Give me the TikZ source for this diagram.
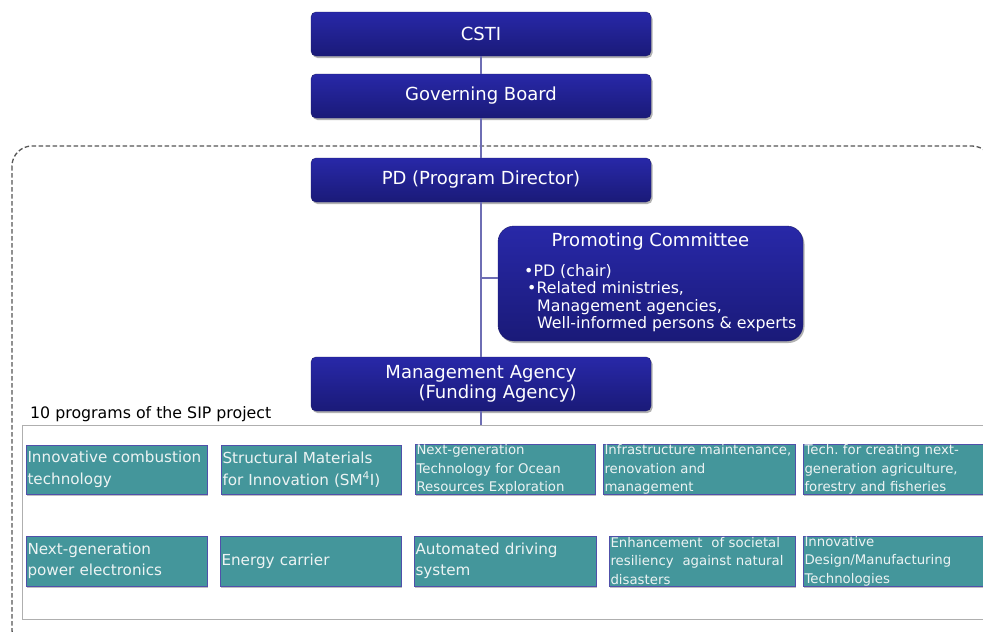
\documentclass[tikz,border=0pt]{standalone}
\usepackage{fontspec}
\setmainfont{DejaVu Sans}
\usetikzlibrary{shadows}
\definecolor{navyT}{RGB}{40,40,168}
\definecolor{navyB}{RGB}{26,26,120}
\definecolor{navyD}{RGB}{30,30,110}
\definecolor{tealF}{RGB}{68,150,155}
\definecolor{tealD}{RGB}{80,80,170}
\definecolor{tealT}{RGB}{236,243,243}
\definecolor{connC}{RGB}{110,110,180}
\definecolor{dashC}{RGB}{85,85,85}
\definecolor{frameC}{RGB}{175,175,175}
\frenchspacing
\begin{document}
\begin{tikzpicture}[x=1pt,y=-1pt,
  navybox/.style={rounded corners=5pt, top color=navyT, bottom color=navyB,
    draw=navyD, line width=0.4pt, text=white, inner sep=0pt, outer sep=0pt,
    font=\fontsize{18}{20}\selectfont,
    drop shadow={shadow xshift=1.5pt,shadow yshift=-2pt,opacity=0.3,fill=black}},
  prog/.style={fill=tealF, draw=tealD, line width=1pt, text=tealT,
    inner xsep=1.5pt, inner ysep=0pt, outer sep=0pt, align=left,
    drop shadow={shadow xshift=1pt,shadow yshift=-1.5pt,opacity=0.25,fill=black}},
  bigtxt/.style={font=\fontsize{15.2}{21.5}\selectfont},
  smalltxt/.style={font=\fontsize{13.3}{18.5}\selectfont},
  conn/.style={draw=connC, line width=1.2pt}
]
\useasboundingbox (0,0) rectangle (983,632);
\clip (0,0) rectangle (983,632);
\fill[white] (0,0) rectangle (983,632);

% frames
\draw[dashC, line width=1.3pt, dash pattern=on 4.5pt off 2.5pt, rounded corners=20pt]
  (12,146) rectangle (992,650);
\draw[frameC, line width=1pt] (22,425) rectangle (1000,619);

% top chain
\node[navybox, minimum width=340pt, minimum height=44pt] (csti) at (481,34) {CSTI};
\node[navybox, minimum width=340pt, minimum height=44pt] (gb) at (481,96) {Governing Board};
\node[navybox, minimum width=340pt, minimum height=44pt] (pd) at (481,180) {PD (Program Director)};
\node[navybox, minimum width=340pt, minimum height=54pt, align=right,
  font=\fontsize{18}{20}\selectfont] (ma) at (481,384) {Management Agency\\(Funding Agency)};

% promoting committee
\node[navybox, rounded corners=16pt, minimum width=305pt, minimum height=115pt] (pc) at (650.5,283.5) {};
\node[text=white, inner sep=0pt, font=\fontsize{18}{20}\selectfont] (pct) at (650.5,242) {Promoting Committee};
\node[text=white, inner sep=0pt, anchor=north west, align=left,
  font=\fontsize{15.8}{17.4}\selectfont] (pcb) at (524,264)
  {•PD (chair)\\\hspace*{3pt}•Related ministries,\\\hspace*{13pt}Management agencies,\\\hspace*{13pt}Well-informed persons \& experts};

% connectors
\coordinate (pcjoin) at (481,278);
\coordinate (progtop) at (481,425);
\draw[conn] (csti.south) -- (gb.north);
\draw[conn] (gb.south) -- (pd.north);
\draw[conn] (pd.south) -- (ma.north);
\draw[conn] (pcjoin) -- (pcjoin -| pc.west);
\draw[conn] (ma.south) -- (progtop);

% label
\node[anchor=base west, inner sep=0pt, font=\fontsize{15.8}{18}\selectfont] (lbl) at (30,418)
  {10 programs of the SIP project};

% row 1
\node[prog, bigtxt, minimum width=181pt, text width=178pt, minimum height=49pt] (p1) at (116.5,469.5)
  {Innovative combustion\\technology};
\node[prog, bigtxt, minimum width=180pt, text width=177pt, minimum height=49pt] (p2) at (311,469.5)
  {Structural Materials\\for Innovation (SM\textsuperscript{4}I)};
\node[prog, smalltxt, minimum width=180pt, text width=177pt, minimum height=49pt] (p3) at (505,469.5)
  {Next-generation\\Technology for Ocean\\Resources Exploration};
\node[prog, smalltxt, minimum width=192pt, text width=189pt, minimum height=49pt] (p4) at (699,469.5)
  {Infrastructure maintenance,\\renovation and\\management};
\node[prog, smalltxt, minimum width=192pt, text width=189pt, minimum height=49pt] (p5) at (899,469.5)
  {Tech. for creating next-\\generation agriculture,\\forestry and fisheries};

% row 2
\node[prog, bigtxt, minimum width=181pt, text width=178pt, minimum height=50pt] (q1) at (116.5,561)
  {Next-generation\\power electronics};
\node[prog, bigtxt, minimum width=181pt, text width=178pt, minimum height=50pt] (q2) at (310.5,561)
  {Energy carrier};
\node[prog, bigtxt, minimum width=182pt, text width=179pt, minimum height=50pt] (q3) at (505,561)
  {Automated driving\\system};
\node[prog, smalltxt, minimum width=186pt, text width=183pt, minimum height=50pt] (q4) at (702,561)
  {Enhancement\ \ of societal\\resiliency\ \ against natural\\disasters};
\node[prog, smalltxt, minimum width=192pt, text width=189pt, minimum height=50pt] (q5) at (899,561)
  {Innovative\\Design/Manufacturing\\Technologies};
\end{tikzpicture}
\end{document}
